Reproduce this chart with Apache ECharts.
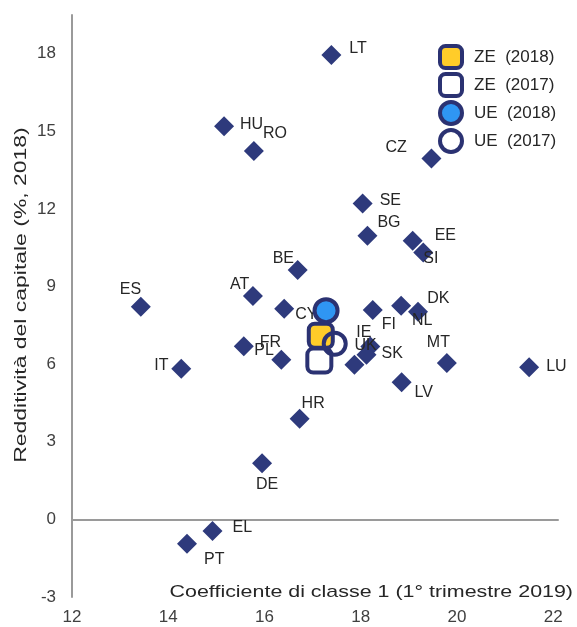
<!DOCTYPE html>
<html>
<head>
<meta charset="utf-8">
<script src="https://cdn.jsdelivr.net/npm/echarts@6/dist/echarts.min.js"></script>
<style>
  html, body { margin: 0; padding: 0; background: #fff; }
  #chart { width: 577px; height: 627px; }
</style>
</head>
<body>
<div id="chart"></div>
<script>
// paesi: coefficiente CET1 (x) e ROE 2018 (y)
const countries = ['LT', 'HU', 'RO', 'CZ', 'SE', 'BG', 'EE', 'SI', 'BE', 'AT', 'ES', 'CY', 'FI', 'DK',
    'NL', 'FR', 'PL', 'IT', 'IE', 'UK', 'SK', 'MT', 'LU', 'LV', 'HR', 'DE', 'EL', 'PT'];
const cet1 = [17.39, 15.16, 15.78, 19.47, 18.04, 18.14, 19.08, 19.30, 16.69, 15.76, 13.43, 16.41, 18.25, 18.84,
    19.19, 15.57, 16.35, 14.27, 18.20, 18.12, 17.87, 19.79, 21.50, 18.85, 16.73, 15.95, 14.92, 14.39];
const roe = [17.95, 15.20, 14.24, 13.95, 12.21, 10.97, 10.77, 10.32, 9.64, 8.64, 8.22, 8.14, 8.10, 8.26,
    8.03, 6.69, 6.17, 5.82, 6.68, 6.37, 5.98, 6.05, 5.88, 5.30, 3.89, 2.17, -0.45, -0.94];

// aggregati
const zeNames = ['ZE (2018)', 'ZE (2017)'];
const zeCet1 = [17.17, 17.14];
const zeRoe = [7.10, 6.14];
const ueNames = ['UE (2018)', 'UE (2017)'];
const ueCet1 = [17.28, 17.46];
const ueRoe = [8.07, 6.79];

const xTicks = [12, 14, 16, 18, 20, 22];
const yTicks = [-3, 0, 3, 6, 9, 12, 15, 18];

// posizione etichette: [scarto sinistro testo, scarto verticale] rispetto al centro
const labelPos = {
    LT: [18, -6], HU: [16, -2], RO: [9, -17], CZ: [-46, -11], SE: [17, -3], BG: [10, -13],
    EE: [22, -5], SI: [0, 6], BE: [-25, -11], AT: [-23, -11], ES: [-21, -17], CY: [11, 6],
    FI: [9, 15], DK: [26, -7], NL: [-6, 9], FR: [16, -4], PL: [-27, -9], IT: [-27, -3],
    IE: [-14, -14], UK: [-12, -9], SK: [27, -11], MT: [-20, -20], LU: [17, -1], LV: [13, 10],
    HR: [2, -15], DE: [-6, 21], EL: [20, -3], PT: [17, 16]
};

const navy = '#2b3272';
const diamond = 20;

const countryData = countries.map((c, i) => ({
    name: c,
    value: [cet1[i], roe[i]],
    label: { position: [diamond / 2 + labelPos[c][0], diamond / 2 + labelPos[c][1]] }
}));

const chart = echarts.init(document.getElementById('chart'));
const font = 'Liberation Sans, Arial, sans-serif';

chart.setOption({
    animation: false,
    textStyle: { fontFamily: font },
    grid: { left: 72, right: 19, top: 15, bottom: 30 },
    legend: {
        orient: 'vertical',
        left: 433,
        top: 39,
        itemWidth: 22,
        itemHeight: 22,
        itemGap: 2,
        selectedMode: false,
        data: ['ZE (2018)', 'ZE (2017)', 'UE (2018)', 'UE (2017)'],
        formatter: n => n.replace(' ', '  '),
        itemStyle: { borderWidth: 4, borderColor: navy },
        textStyle: { fontSize: 17, color: '#262626', fontFamily: font, padding: [0, 0, 0, 7] }
    },
    xAxis: [{
        type: 'value',
        min: xTicks[0], max: 22.1, interval: 2,
        axisLine: { onZero: true, lineStyle: { color: '#9a9a9a', width: 2 } },
        axisTick: { show: false },
        axisLabel: { show: false },
        splitLine: { show: false }
    }, {
        type: 'value',
        position: 'bottom',
        min: xTicks[0], max: 22.1, interval: 2,
        axisLine: { show: false, onZero: false },
        axisTick: { show: false },
        axisLabel: { fontSize: 17, color: '#404040', margin: 12, showMaxLabel: false },
        splitLine: { show: false }
    }],
    yAxis: {
        type: 'value',
        min: yTicks[0], max: 19.5, interval: 3,
        axisLine: { show: true, onZero: false, lineStyle: { color: '#9a9a9a', width: 2 } },
        axisTick: { show: false },
        axisLabel: { fontSize: 17, color: '#404040', margin: 16, showMaxLabel: false },
        splitLine: { show: false }
    },
    graphic: [{
        type: 'text',
        x: 573,
        y: 592,
        scaleX: 1.26,
        style: {
            text: 'Coefficiente di classe 1 (1° trimestre 2019)',
            font: '17px ' + font,
            fill: '#262626',
            align: 'right',
            verticalAlign: 'middle'
        }
    }, {
        type: 'text',
        x: 21,
        y: 295,
        rotation: Math.PI / 2,
        scaleX: 1.35,
        style: {
            text: 'Redditività del capitale (%, 2018)',
            font: '17px ' + font,
            fill: '#262626',
            align: 'center',
            verticalAlign: 'middle'
        }
    }],
    series: [{
        name: 'paesi',
        type: 'scatter',
        symbol: 'diamond',
        symbolSize: diamond,
        itemStyle: { color: '#2e3a7c', opacity: 1 },
        label: {
            show: true,
            formatter: '{b}',
            align: 'left',
            verticalAlign: 'middle',
            fontSize: 16,
            color: '#262626'
        },
        data: countryData,
        z: 2
    }, {
        name: zeNames[1],
        type: 'scatter',
        symbol: 'roundRect',
        symbolSize: 24,
        itemStyle: { color: '#ffffff', borderColor: navy, borderWidth: 4, opacity: 1 },
        data: [[zeCet1[1], zeRoe[1]]],
        z: 3
    }, {
        name: zeNames[0],
        type: 'scatter',
        symbol: 'roundRect',
        symbolSize: 24,
        itemStyle: { color: '#ffcc29', borderColor: navy, borderWidth: 4, opacity: 1 },
        data: [[zeCet1[0], zeRoe[0]]],
        z: 4
    }, {
        name: ueNames[1],
        type: 'scatter',
        symbol: 'circle',
        symbolSize: 22,
        itemStyle: { color: 'rgba(255,255,255,0)', borderColor: navy, borderWidth: 4, opacity: 1 },
        data: [[ueCet1[1], ueRoe[1]]],
        z: 5
    }, {
        name: ueNames[0],
        type: 'scatter',
        symbol: 'circle',
        symbolSize: 23,
        itemStyle: { color: '#2f96f3', borderColor: navy, borderWidth: 4, opacity: 1 },
        data: [[ueCet1[0], ueRoe[0]]],
        z: 6
    }]
});
</script>
</body>
</html>
